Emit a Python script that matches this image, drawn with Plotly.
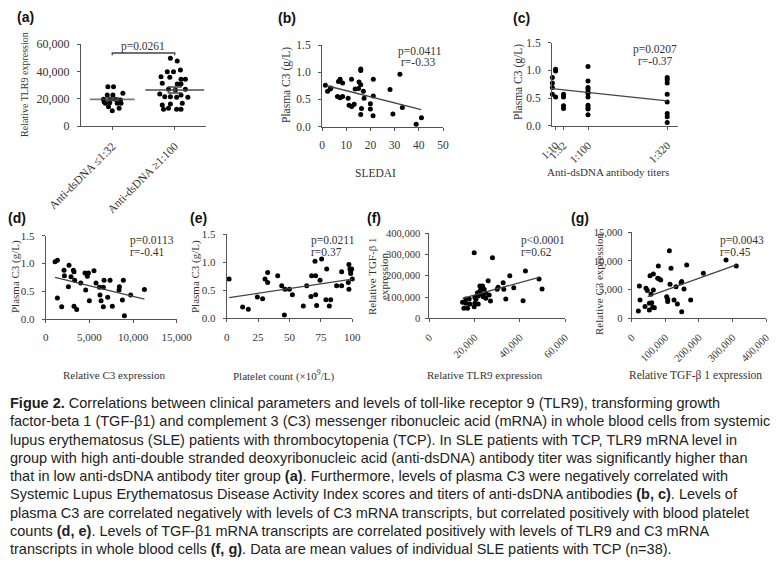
import plotly.graph_objects as go

# page body keeps its default 8px margin, so the figure is laid out 8px in
OFF = 8
W, H = 782 - OFF, 564 - OFF

# ---- (a) TLR9 expression by anti-dsDNA group ----
a_groups = ["Anti-dsDNA ≤1:32", "Anti-dsDNA ≥1:100"]
a_low_jitter = [-0.07, 0.02, -0.08, 0.17, 0.01, -0.14, -0.03, 0.05, 0.13, -0.11,
                -0.04, 0.08, 0.14, -0.06, 0.11, 0.0, -0.13]
a_low_tlr9 = [28780, 28780, 22680, 23900, 22680, 19510, 19510, 19510, 19020, 16590,
              17070, 16590, 16590, 14150, 12930, 11220, 17800]
a_high_jitter = [-0.07, 0.04, 0.09, -0.12, -0.02, -0.22, -0.08, 0.10, 0.17, -0.20,
                 0.04, 0.10, -0.10, 0.01, 0.17, -0.24, -0.16, -0.07, 0.03, 0.10,
                 0.21, -0.20, -0.07, 0.12, -0.18, 0.03, 0.10, -0.10]
a_high_tlr9 = [49540, 47590, 41000, 39780, 39780, 36100, 35600, 34150, 34150, 31220,
               30730, 30730, 26830, 26340, 26830, 23410, 21460, 21460, 20980, 22680,
               20980, 15370, 16100, 16590, 12200, 12200, 12200, 12900]
a_means = [19540, 26340]
a_sems = [900, 2200]
a_pvalue = "p=0.0261"

# ---- (b) plasma C3 vs SLEDAI ----
b_sledai = [1.4, 2.3, 3.4, 3.7, 6.8, 7.5, 6.4, 7.5, 8.5, 8.5, 10.8, 11.2, 12.2, 12.3,
            13.3, 13.7, 15.1, 15.3, 16, 16, 16, 16.3, 16, 17.1, 17.4, 20, 20, 21.2,
            21.2, 21.1, 28.1, 29.3, 32.2, 33.2, 38.9, 41.1]
b_c3 = [0.76, 0.65, 0.69, 0.71, 0.83, 0.87, 0.55, 0.53, 0.55, 0.80, 0.52, 0.39, 0.87,
        0.37, 0.41, 0.69, 0.70, 0.82, 1.06, 1.03, 0.77, 0.33, 0.22, 0.65, 0.52, 0.42,
        0.32, 0.87, 0.56, 0.20, 0.68, 0.23, 0.96, 0.35, 0.04, 0.16]
b_fit_x = [2, 41]
b_fit_y = [0.75, 0.31]

# ---- (c) plasma C3 vs anti-dsDNA titer ----
c_titer = [1, 1, 1, 1, 10, 10, 10, 32, 32, 32, 32,
           100, 100, 100, 100, 100, 100, 100, 100, 100, 100, 100,
           320, 320, 320, 320, 320, 320, 320, 320]
c_c3 = [0.87, 0.77, 0.69, 0.57, 1.02, 0.99, 0.52, 0.57, 0.52, 0.36, 0.31,
        1.07, 0.81, 0.69, 0.66, 0.61, 0.58, 0.52, 0.37, 0.33, 0.30, 0.20,
        0.87, 0.83, 0.77, 0.57, 0.43, 0.22, 0.16, 0.06]
c_ticks = [10, 32, 100, 320]
c_ticktext = ["1:10", "1:32", "1:100", "1:320"]
c_fit_x = [0, 320]
c_fit_y = [0.67, 0.45]

# ---- (d) plasma C3 vs relative C3 expression ----
d_c3expr = [1070, 1340, 1340, 1830, 2100, 2140, 2600, 2670, 2900, 3170, 3240, 3240,
            3320, 3550, 4010, 4500, 4580, 4770, 4890, 5000, 5530, 5760, 6150, 6220,
            6340, 6600, 6680, 6600, 7100, 7370, 7630, 8400, 8440, 8780, 8890, 9010,
            9730, 11300]
d_c3 = [1.03, 1.06, 0.38, 0.22, 0.88, 0.78, 0.58, 0.97, 0.76, 0.88, 0.85, 0.23,
        0.70, 0.17, 0.65, 0.83, 0.52, 0.77, 0.83, 0.33, 0.87, 0.65, 0.57, 0.43,
        0.33, 0.57, 0.70, 0.22, 0.39, 0.70, 0.23, 0.52, 0.58, 0.34, 0.70, 0.06,
        0.43, 0.53]
d_fit_x = [1070, 11300]
d_fit_y = [0.75, 0.36]

# ---- (e) plasma C3 vs platelet count ----
e_platelet = [1.9, 12.7, 17.2, 24.4, 28.6, 30.5, 32.6, 32.6, 40.6, 43.8, 45.9, 46.4,
              49.9, 52.3, 61, 63.7, 67.1, 67.6, 70.3, 70.8, 70.8, 71.6, 74.3, 75.6,
              79, 79.6, 81.7, 82.8, 87.5, 91.5, 91.5, 96.8, 97.3, 97.3, 98.1, 98.7,
              99.5, 100, 98.7]
e_c3 = [0.70, 0.20, 0.16, 0.38, 0.35, 0.70, 0.64, 0.82, 0.76, 0.58, 0.06, 0.52,
        0.52, 0.42, 0.22, 0.58, 0.39, 0.76, 1.02, 0.76, 0.42, 0.23, 0.68, 1.06,
        0.33, 0.88, 0.22, 0.33, 0.58, 0.58, 0.83, 0.64, 0.52, 0.96, 0.88, 0.85,
        0.88, 0.70, 0.80]
e_fit_x = [1.9, 100]
e_fit_y = [0.37, 0.70]

# ---- (f) TGF-b1 vs TLR9 expression ----
f_tlr9 = [14710, 15290, 16180, 16180, 16910, 17650, 17940, 19850, 19850, 20150,
          20150, 20600, 21320, 21620, 21620, 22350, 22650, 23090, 23530, 23820,
          24260, 25000, 25000, 26030, 26470, 27060, 27940, 30000, 30440, 32650,
          32940, 33820, 35590, 37350, 41470, 42500, 48530, 49850]
f_tgfb = [75290, 47060, 90980, 70590, 47060, 90980, 67450, 54900, 309020, 98820,
          70590, 89410, 120780, 105100, 67450, 152160, 133330, 114510, 152160, 101960,
          136470, 117650, 94120, 177250, 109800, 81570, 285490, 136470, 145880, 167840,
          136470, 90980, 200780, 144310, 83140, 222750, 185100, 138040]
f_fit_x = [14710, 48530]
f_fit_y = [94120, 192940]

# ---- (g) C3 vs TGF-b1 expression ----
g_tgfb = [19850, 22830, 24810, 39700, 42680, 46650, 52600, 52600, 54590, 57570,
          59550, 62530, 64520, 67490, 64520, 77420, 79400, 82380, 86350, 104220,
          107200, 107200, 112160, 114140, 117120, 126060, 132010, 135980, 146900,
          148880, 148880, 155830, 163770, 175680, 213400, 280890, 311460]
g_c3expr = [1280, 5640, 3200, 2040, 5230, 4830, 2620, 1450, 7440, 4190, 2730, 1920,
            4940, 1860, 7730, 6980, 9130, 6860, 6690, 3780, 3310, 2910, 11800, 5930,
            8720, 3200, 5520, 2500, 6220, 1160, 6400, 5120, 9300, 3200, 7850, 10170,
            9130]
g_fit_x = [47640, 311460]
g_fit_y = [3780, 9300]

stats = {
    "b": ("p=0.0411", "r=-0.33"),
    "c": ("p=0.0207", "r=-0.37"),
    "d": ("p=0.0113", "r=-0.41"),
    "e": ("p=0.0211", "r=0.37"),
    "f": ("p<0.0001", "r=0.62"),
    "g": ("p=0.0043", "r=0.45"),
}

caption = [
    "<b>Figue 2.</b> Correlations between clinical parameters and levels of toll-like receptor 9 (TLR9), transforming growth",
    "factor-beta 1 (TGF-β1) and complement 3 (C3) messenger ribonucleic acid (mRNA) in whole blood cells from systemic",
    "lupus erythematosus (SLE) patients with thrombocytopenia (TCP). In SLE patients with TCP, TLR9 mRNA level in",
    "group with high anti-double stranded deoxyribonucleic acid (anti-dsDNA) antibody titer was significantly higher than",
    "that in low anti-dsDNA antibody titer group <b>(a)</b>. Furthermore, levels of plasma C3 were negatively correlated with",
    "Systemic Lupus Erythematosus Disease Activity Index scores and titers of anti-dsDNA antibodies <b>(b, c)</b>. Levels of",
    "plasma C3 are correlated negatively with levels of C3 mRNA transcripts, but correlated positively with blood platelet",
    "counts <b>(d, e)</b>. Levels of TGF-β1 mRNA transcripts are correlated positively with levels of TLR9 and C3 mRNA",
    "transcripts in whole blood cells <b>(f, g)</b>. Data are mean values of individual SLE patients with TCP (n=38).",
]

SERIF = "Liberation Serif"
INK = "#333333"
AXIS = "#555555"


def hx(a, b):
    return [(a - OFF) / W, (b - OFF) / W]


def vy(top, bottom):
    return [1 - (bottom - OFF) / H, 1 - (top - OFF) / H]


fig = go.Figure()


def dots(x, y, ax, size=5):
    fig.add_trace(go.Scatter(x=x, y=y, mode="markers", xaxis="x" + ax, yaxis="y" + ax,
                             marker=dict(color="black", size=size), cliponaxis=False,
                             showlegend=False, hoverinfo="skip"))


def fit(x, y, ax):
    fig.add_trace(go.Scatter(x=x, y=y, mode="lines", xaxis="x" + ax, yaxis="y" + ax,
                             line=dict(color="#444444", width=1.3), cliponaxis=False,
                             showlegend=False, hoverinfo="skip"))


# (a)
dots([0 + j for j in a_low_jitter], a_low_tlr9, "", size=5)
dots([1 + j for j in a_high_jitter], a_high_tlr9, "", size=5)
fig.add_trace(go.Scatter(x=[0, 1], y=a_means, mode="markers", cliponaxis=False,
                         marker=dict(symbol="line-ew", size=[32, 42],
                                     line=dict(color="#444444", width=1.8)),
                         error_y=dict(type="data", array=a_sems, color="#444444",
                                      thickness=1.5, width=7),
                         showlegend=False, hoverinfo="skip"))
fig.add_trace(go.Scatter(x=[0, 0, 1, 1], y=[51800, 53400, 53400, 51800], mode="lines",
                         line=dict(color="#444444", width=1.3), cliponaxis=False,
                         showlegend=False, hoverinfo="skip"))

dots(b_sledai, b_c3, "2"); fit(b_fit_x, b_fit_y, "2")
dots(c_titer, c_c3, "3"); fit(c_fit_x, c_fit_y, "3")
dots(d_c3expr, d_c3, "4"); fit(d_fit_x, d_fit_y, "4")
dots(e_platelet, e_c3, "5"); fit(e_fit_x, e_fit_y, "5")
dots(f_tlr9, f_tgfb, "6"); fit(f_fit_x, f_fit_y, "6")
dots(g_tgfb, g_c3expr, "7"); fit(g_fit_x, g_fit_y, "7")

base = dict(showline=True, linecolor=AXIS, linewidth=1, ticks="outside", ticklen=3,
            tickcolor=AXIS, showgrid=False, zeroline=False, automargin=False,
            ticklabelstandoff=5)


def tf(size):
    return dict(family=SERIF, size=size, color=INK)


# domains in page pixels: x from left..right, y from top..bottom
layout_axes = {
    "": dict(x=dict(domain=hx(81, 206), range=[-0.5, 1.5], tickvals=[0, 1],
                    ticktext=a_groups, tickangle=-45, tickfont=tf(11.5)),
             y=dict(domain=vy(44, 126), range=[0, 60000], dtick=20000, tickformat=",",
                    tickfont=tf(12))),
    "2": dict(x=dict(domain=hx(322, 443), range=[0, 50], dtick=10, tickfont=tf(11.5)),
              y=dict(domain=vy(45, 126.5), range=[0, 1.5], dtick=0.5, tickformat=".1f",
                     tickfont=tf(11.5))),
    "3": dict(x=dict(domain=hx(552, 678), range=[0, 350], tickvals=c_ticks,
                     ticktext=c_ticktext, tickangle=-45, tickfont=tf(11)),
              y=dict(domain=vy(42.7, 125.7), range=[0, 1.5], dtick=0.5, tickformat=".1f",
                     tickfont=tf(11.5))),
    "4": dict(x=dict(domain=hx(45.7, 176.7), range=[0, 15000], dtick=5000, tickformat=",",
                     tickfont=tf(11)),
              y=dict(domain=vy(235.7, 319), range=[0, 1.5], dtick=0.5, tickformat=".1f",
                     tickfont=tf(11))),
    "5": dict(x=dict(domain=hx(226.7, 352.3), range=[0, 100], dtick=25, tickfont=tf(11)),
              y=dict(domain=vy(234.3, 318.3), range=[0, 1.5], dtick=0.5, tickformat=".1f",
                     tickfont=tf(11))),
    "6": dict(x=dict(domain=hx(429.3, 565), range=[0, 60000], dtick=20000, tickformat=",",
                     tickangle=-45, tickfont=tf(10.5)),
              y=dict(domain=vy(233.3, 318.3), range=[0, 400000], dtick=100000, tickformat=",",
                     tickfont=tf(10.5), ticklabelstandoff=3)),
    "7": dict(x=dict(domain=hx(631.7, 766), range=[0, 400000], dtick=100000, tickformat=",",
                     tickangle=-45, tickfont=tf(10.5)),
              y=dict(domain=vy(232.3, 318.3), range=[0, 15000], dtick=5000, tickformat=",",
                     tickfont=tf(10.5), ticklabelstandoff=3)),
}

lay = {}
for k, v in layout_axes.items():
    lay["xaxis" + k] = {**base, "anchor": "y" + k, **v["x"]}
    lay["yaxis" + k] = {**base, "anchor": "x" + k, **v["y"]}

ann = []


def text(x, y, s, size=11, angle=0, family=SERIF, xanchor="center", color=INK):
    ann.append(dict(x=(x - OFF) / W, y=1 - (y - OFF) / H, xref="paper", yref="paper",
                    text=s, showarrow=False, textangle=angle, xanchor=xanchor,
                    yanchor="middle", font=dict(family=family, size=size, color=color)))


# panel letters
for lab, (x, y) in {"(a)": (25, 17), "(b)": (287, 18), "(c)": (521, 18), "(d)": (17, 218),
                    "(e)": (198, 218), "(f)": (374, 218), "(g)": (580, 218)}.items():
    text(x, y, "<b>" + lab + "</b>", size=14, family="Liberation Sans", color="#111111")

# axis titles
text(24, 85, "Relative TLR9 expression", size=10, angle=-90)
text(286, 85, "Plasma C3 (g/L)", size=11.5, angle=-90)
text(375, 173, "SLEDAI", size=11.5)
text(518, 82, "Plasma C3 (g/L)", size=11.5, angle=-90)
text(608, 172, "Anti-dsDNA antibody titers")
text(15, 277, "Plasma C3 (g/L)", angle=-90)
text(115, 375, "Relative C3 expression")
text(195, 277, "Plasma C3 (g/L)", angle=-90)
text(283, 375, "Platelet count (×10<sup>9</sup>/L)")
text(372, 276, "Relative TGF-β 1", angle=-90)
text(384, 276, "expression", angle=-90)
text(485, 375, "Relative TLR9 expression")
text(599, 284, "Relative C3 expression", angle=-90)
text(695, 375, "Relative TGF-β 1 expression", size=11.5)

# p / r labels
text(143, 46, a_pvalue, size=11.5)
text(420, 51.5, stats["b"][0], size=11.5); text(418, 62.5, stats["b"][1], size=11.5)
text(655, 50, stats["c"][0], size=11.5); text(655, 61.5, stats["c"][1], size=11.5)
for k, x in (("d", 128), ("e", 309), ("f", 519), ("g", 718)):
    text(x, 240, stats[k][0], size=11.5, xanchor="left")
    text(x, 252, stats[k][1], size=11.5, xanchor="left")

# caption
for i, line in enumerate(caption):
    text(8, 403 + i * 18.25, line, size=14.5, family="Liberation Sans", xanchor="left",
         color="#222222")

fig.update_layout(width=W, height=H, margin=dict(l=0, r=0, t=0, b=0, autoexpand=False),
                  paper_bgcolor="white", plot_bgcolor="white", annotations=ann, **lay)

fig.write_html("out.html")
